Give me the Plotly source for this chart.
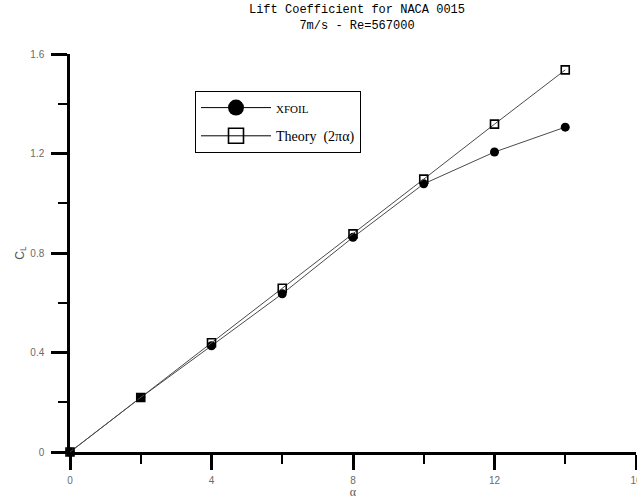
import plotly.graph_objects as go

alpha = [0, 2, 4, 6, 8, 10, 12, 14]
cl_xfoil = [0.0, 0.219, 0.427, 0.636, 0.863, 1.078, 1.206, 1.306]
cl_theory = [0.0, 0.219, 0.439, 0.658, 0.877, 1.097, 1.318, 1.536]

x_ticks = [0, 4, 8, 12, 16]
y_ticks = [0, 0.4, 0.8, 1.2, 1.6]
y_tick_text = ["0", "0.4", "0.8", "1.2", "1.6"]

title_line1 = "Lift Coefficient for NACA 0015"
title_line2 = "7m/s - Re=567000"

line_col = "#4a4a4a"
tick_font = dict(family="Liberation Sans, Arial", size=10, color="#6a6a6a")

fig = go.Figure()

# data traces
fig.add_trace(go.Scatter(
    x=alpha, y=cl_xfoil, mode="lines+markers", showlegend=False, cliponaxis=False,
    line=dict(color=line_col, width=1),
    marker=dict(symbol="circle", size=9, color="black"),
))
fig.add_trace(go.Scatter(
    x=alpha, y=cl_theory, mode="lines+markers", showlegend=False, cliponaxis=False,
    line=dict(color=line_col, width=1),
    marker=dict(symbol="square-open", size=8, color="black", line=dict(width=1.6, color="black")),
))

# legend entries
fig.add_trace(go.Scatter(
    x=[None], y=[None], mode="lines+markers",
    name='<span style="font-size:11px">XFOIL</span>', legendgroup="a",
    line=dict(color="black", width=1),
    marker=dict(symbol="circle", size=16, color="black"),
))
fig.add_trace(go.Scatter(
    x=[None], y=[None], mode="lines+markers", name="Theory  (2πα)", legendgroup="b",
    line=dict(color="black", width=1),
    marker=dict(symbol="square-open", size=15, color="black", line=dict(width=1.6, color="black")),
))

fig.update_layout(
    width=637, height=499,
    margin=dict(l=70, r=1, t=54, b=47, autoexpand=False),
    paper_bgcolor="white", plot_bgcolor="white",
    title=dict(
        text=title_line1 + "<br>" + title_line2,
        x=357 / 637, xanchor="center", y=1 - 13 / 499, yanchor="middle",
        font=dict(family="Liberation Mono, Courier New, monospace", size=12, color="black"),
    ),
    legend=dict(
        x=(195 - 70) / 566, y=(452 - 91) / 398, xanchor="left", yanchor="top",
        bgcolor="white", bordercolor="black", borderwidth=1,
        font=dict(family="Liberation Serif, Times New Roman, serif", size=14, color="black"),
        itemwidth=70, tracegroupgap=7,
    ),
    xaxis=dict(
        range=[0, 16], tickvals=x_ticks, ticktext=[str(v) for v in x_ticks],
        showgrid=False, zeroline=False,
        showline=True, linecolor="black", linewidth=2.5,
        ticks="outside", ticklen=15, tickwidth=2.5, tickcolor="black",
        minor=dict(dtick=2, ticks="outside", ticklen=9, tickwidth=2, tickcolor="black", showgrid=False),
        tickfont=tick_font, ticklabelstandoff=2, ticklabeloverflow="allow",
        title=dict(text="α", font=dict(family="Liberation Serif, serif", size=12, color="#555"), standoff=4),
    ),
    yaxis=dict(
        range=[0, 1.6], tickvals=y_ticks, ticktext=y_tick_text,
        showgrid=False, zeroline=False,
        showline=True, linecolor="black", linewidth=2.5,
        ticks="outside", ticklen=16, tickwidth=2.5, tickcolor="black",
        minor=dict(dtick=0.2, ticks="outside", ticklen=9, tickwidth=2, tickcolor="black", showgrid=False),
        tickfont=tick_font, ticklabelstandoff=5,
        title=dict(text="C<sub>L</sub>", font=dict(family="Liberation Sans, Arial", size=12, color="#555"), standoff=4),
    ),
)

fig.write_html("out.html")
